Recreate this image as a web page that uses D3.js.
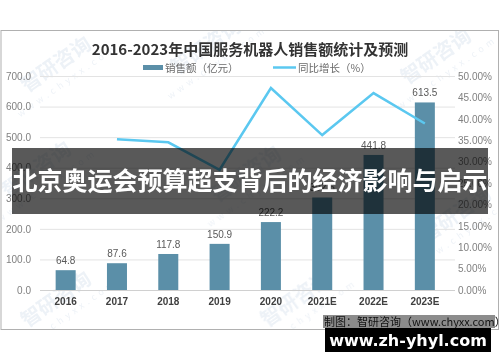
<!DOCTYPE html>
<html>
<head>
<meta charset="utf-8">
<script src="https://cdn.jsdelivr.net/npm/d3@7"></script>
<style>
  body { margin: 0; background: #fff; }
  svg { display: block; font-family: "Noto Sans CJK SC", "Noto Sans", sans-serif; }
</style>
</head>
<body>
<div id="chart"></div>
<script>
// chart data
var years = ["2016", "2017", "2018", "2019", "2020", "2021E", "2022E", "2023E"];
var sales = [64.8, 87.6, 117.8, 150.9, 222.2, 302.6, 441.8, 613.5];
var growth = [null, 35.2, 34.5, 28.1, 47.2, 36.2, 46.0, 38.9];
var leftTicks = [0, 100, 200, 300, 400, 500, 600, 700];
var rightTicks = [0, 5, 10, 15, 20, 25, 30, 35, 40, 45, 50];

var svgWidth = 500, svgHeight = 362;
var margin = { top: 76, left: 40, right: 50, bottom: 72 };
var width = svgWidth - margin.left - margin.right;
var height = svgHeight - margin.top - margin.bottom;

var svg = d3.select("#chart").append("svg")
  .attr("width", svgWidth)
  .attr("height", svgHeight);

// outer frame
svg.append("rect")
  .attr("x", 1).attr("y", 30.5)
  .attr("width", 497.5).attr("height", 299)
  .attr("fill", "#fff")
  .attr("stroke", "#b0b0b0");

svg.append("clipPath").attr("id", "frameClip")
  .append("rect").attr("x", 2).attr("y", 31).attr("width", 496).attr("height", 298);

// faint watermarks
var marks = [[60, 70], [210, 52], [440, 62], [40, 175], [250, 180], [460, 220], [60, 305], [300, 305]];
var wm = svg.append("g").attr("clip-path", "url(#frameClip)").attr("fill", "#d3deeb").attr("opacity", 0.4);
marks.forEach(function(p) {
  var g = wm.append("g").attr("transform", `translate(${p[0]}, ${p[1]}) rotate(-35)`);
  g.append("text").attr("text-anchor", "middle").attr("font-size", 20).attr("font-weight", "bold").text("智研咨询");
  g.append("text").attr("text-anchor", "middle").attr("y", 16).attr("font-size", 9).attr("letter-spacing", 4).text("www.chyxx.com");
});

var chartGroup = svg.append("g")
  .attr("transform", `translate(${margin.left}, ${margin.top})`);

var x = d3.scaleBand().domain(years).range([0, 410.5]).paddingInner(0.61).paddingOuter(0.305);
var yLeft = d3.scaleLinear().domain([0, 700]).range([height, 0]);
var yRight = d3.scaleLinear().domain([0, 50]).range([height, 0]);

// gridlines
chartGroup.append("g").selectAll("line")
  .data(leftTicks)
  .enter().append("line")
  .attr("x1", 0).attr("x2", 415)
  .attr("y1", d => yLeft(d) + 0.5).attr("y2", d => yLeft(d) + 0.5)
  .attr("stroke", d => d === 0 ? "#d0d0d0" : "#e3e3e3");

// left axis
var leftAxis = d3.axisLeft(yLeft).tickValues(leftTicks).tickFormat(d3.format(".1f")).tickSize(0).tickPadding(9);
chartGroup.append("g").call(leftAxis)
  .call(g => g.select(".domain").remove())
  .selectAll("text").attr("fill", "#808080").attr("font-size", 10).attr("font-family", "Liberation Sans, sans-serif");

// right axis
var rightAxis = d3.axisRight(yRight).tickValues(rightTicks).tickFormat(d => d.toFixed(2) + "%").tickSize(0).tickPadding(8);
chartGroup.append("g").attr("transform", `translate(${width}, 0)`).call(rightAxis)
  .call(g => g.select(".domain").remove())
  .selectAll("text").attr("fill", "#808080").attr("font-size", 10).attr("font-family", "Liberation Sans, sans-serif");

// bottom axis
var bottomAxis = d3.axisBottom(x).tickSize(0).tickPadding(8);
chartGroup.append("g").attr("transform", `translate(0, ${height})`).call(bottomAxis)
  .call(g => g.select(".domain").remove())
  .selectAll("text").attr("fill", "#404040").attr("font-size", 10).attr("font-weight", "bold").attr("font-family", "Liberation Sans, sans-serif");

// bars
chartGroup.selectAll(".bar")
  .data(sales)
  .enter().append("rect")
  .attr("class", "bar")
  .attr("x", (d, i) => x(years[i]))
  .attr("y", d => yLeft(d))
  .attr("width", x.bandwidth())
  .attr("height", d => height - yLeft(d))
  .attr("fill", "#5b8fa8");

// bar labels
chartGroup.selectAll(".barLabel")
  .data(sales)
  .enter().append("text")
  .attr("x", (d, i) => x(years[i]) + x.bandwidth() / 2)
  .attr("y", d => yLeft(d) - 6)
  .attr("text-anchor", "middle")
  .attr("fill", "#595959")
  .attr("font-size", 10)
  .attr("font-family", "Liberation Sans, sans-serif")
  .text(d => d.toFixed(1));

// growth line
var line = d3.line()
  .defined(d => d != null)
  .x((d, i) => x(years[i]) + x.bandwidth() / 2)
  .y(d => yRight(d));

chartGroup.append("path")
  .datum(growth)
  .attr("d", line)
  .attr("fill", "none")
  .attr("stroke", "#5bc8f0")
  .attr("stroke-width", 2.5)
  .attr("stroke-linejoin", "miter");

// title
svg.append("text")
  .attr("x", 250).attr("y", 55)
  .attr("text-anchor", "middle")
  .attr("font-size", 15)
  .attr("font-weight", "bold")
  .attr("fill", "#333")
  .text("2016-2023年中国服务机器人销售额统计及预测");

// legend
var legend = svg.append("g").attr("font-size", 10.5).attr("fill", "#6a6a6a");
legend.append("rect").attr("x", 143).attr("y", 65).attr("width", 20).attr("height", 5).attr("fill", "#5b8fa8");
legend.append("text").attr("x", 165).attr("y", 71.5).text("销售额（亿元）");
legend.append("line").attr("x1", 273).attr("x2", 296).attr("y1", 67.5).attr("y2", 67.5).attr("stroke", "#5bc8f0").attr("stroke-width", 2.5);
legend.append("text").attr("x", 298).attr("y", 71.5).text("同比增长（%）");

// overlay banner
svg.append("rect")
  .attr("x", 12).attr("y", 148)
  .attr("width", 476).attr("height", 66)
  .attr("fill", "#000").attr("opacity", 0.65);
svg.append("text")
  .attr("x", 250).attr("y", 190)
  .attr("text-anchor", "middle")
  .attr("font-size", 25)
  .attr("font-weight", "bold")
  .attr("fill", "#fff")
  .text("北京奥运会预算超支背后的经济影响与启示");

// source note and site label
svg.append("rect")
  .attr("x", 323).attr("y", 315)
  .attr("width", 172).attr("height", 13)
  .attr("fill", "#000").attr("opacity", 0.45);
svg.append("text")
  .attr("x", 324).attr("y", 325.5)
  .attr("font-size", 11)
  .attr("fill", "#111")
  .text("制图：智研咨询（www.chyxx.com）");
svg.append("rect")
  .attr("x", 325).attr("y", 328)
  .attr("width", 166).attr("height", 24)
  .attr("fill", "#000");
svg.append("text")
  .attr("x", 408).attr("y", 346)
  .attr("text-anchor", "middle")
  .attr("font-size", 16)
  .attr("font-weight", "bold")
  .attr("fill", "#fff")
  .attr("font-family", "DejaVu Sans, sans-serif")
  .text("www.zh-yhyl.com");
</script>
</body>
</html>
